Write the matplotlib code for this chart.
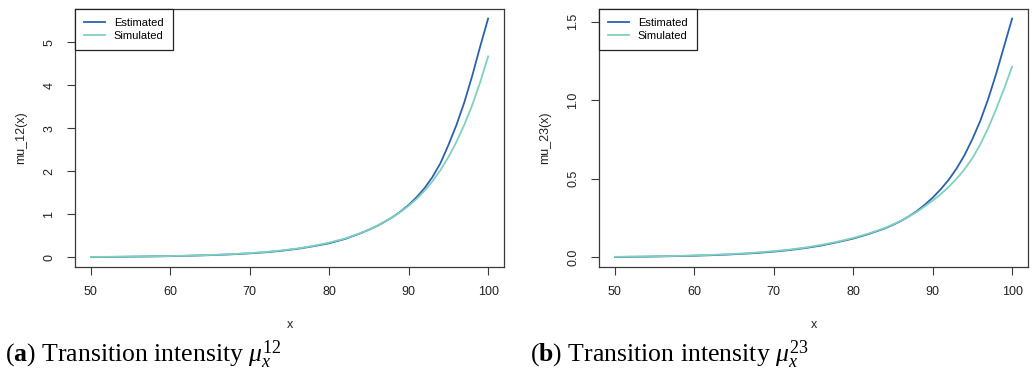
"""Transition intensities: estimated vs simulated (R base-graphics look)."""

import matplotlib
matplotlib.use("Agg")
import matplotlib.pyplot as plt

plt.rcParams['font.family'] = ['Liberation Sans', 'DejaVu Sans']
plt.rcParams['mathtext.fontset'] = 'custom'
plt.rcParams['mathtext.rm'] = 'Liberation Serif'
plt.rcParams['mathtext.it'] = 'Liberation Serif:italic'
plt.rcParams['mathtext.bf'] = 'Liberation Serif:bold'

# ages (read every 2 years up to 84, then yearly)
ages = [50, 52, 54, 56, 58, 60, 62, 64, 66, 68, 70, 72, 74, 76, 78, 80, 82,
        84, 85, 86, 87, 88, 89, 90, 91, 92, 93, 94, 95, 96, 97, 98, 99, 100]

# mu_12(x)
mu12_est = [0.010, 0.012, 0.015, 0.020, 0.025, 0.030, 0.038, 0.048, 0.060,
            0.075, 0.095, 0.120, 0.155, 0.200, 0.260, 0.330, 0.430,
            0.565, 0.645, 0.730, 0.830, 0.940, 1.070, 1.220, 1.400, 1.610,
            1.870, 2.190, 2.610, 3.070, 3.600, 4.220, 4.900, 5.550]
mu12_sim = [0.012, 0.014, 0.018, 0.022, 0.027, 0.033, 0.041, 0.051, 0.064,
            0.080, 0.100, 0.128, 0.163, 0.208, 0.268, 0.345, 0.440,
            0.570, 0.650, 0.735, 0.835, 0.940, 1.060, 1.200, 1.360, 1.550,
            1.770, 2.030, 2.330, 2.680, 3.080, 3.540, 4.070, 4.670]

# mu_23(x)
mu23_est = [0.003, 0.004, 0.005, 0.007, 0.009, 0.011, 0.014, 0.018, 0.023,
            0.029, 0.037, 0.047, 0.060, 0.076, 0.097, 0.120, 0.150,
            0.185, 0.207, 0.232, 0.261, 0.295, 0.335, 0.380, 0.433, 0.493,
            0.565, 0.650, 0.753, 0.870, 1.010, 1.170, 1.345, 1.520]
mu23_sim = [0.004, 0.005, 0.006, 0.008, 0.010, 0.013, 0.016, 0.020, 0.025,
            0.032, 0.040, 0.050, 0.063, 0.080, 0.100, 0.124, 0.153,
            0.188, 0.210, 0.234, 0.260, 0.290, 0.325, 0.362, 0.402, 0.448,
            0.500, 0.560, 0.632, 0.720, 0.825, 0.945, 1.075, 1.214]

EST_COLOR = "#2a62ae"
SIM_COLOR = "#7fd1bf"
FRAME = "#3a3a3a"

panels = [
    ("mu_12(x)", mu12_est, mu12_sim, [0, 1, 2, 3, 4, 5], ["0", "1", "2", "3", "4", "5"],
     r"($\mathbf{a}$) Transition intensity $\mu_x^{12}$"),
    ("mu_23(x)", mu23_est, mu23_sim, [0.0, 0.5, 1.0, 1.5], ["0.0", "0.5", "1.0", "1.5"],
     r"($\mathbf{b}$) Transition intensity $\mu_x^{23}$"),
]

fig = plt.figure(figsize=(10.35, 3.78), dpi=100)
lefts = [75 / 1035, 599 / 1035]
caption_x = [5 / 1035, 530 / 1035]

for (ylab, est, sim, yticks, ytlabels, caption), left, cx in zip(panels, lefts, caption_x):
    ax = fig.add_axes([left, 1 - 267 / 378, 429 / 1035, 258 / 378])
    ax.plot(ages, est, color=EST_COLOR, linewidth=1.3, label="Estimated")
    ax.plot(ages, sim, color=SIM_COLOR, linewidth=1.3, label="Simulated")

    # R-style 4% padding
    lo, hi = 0.0, max(max(est), max(sim))
    pad = 0.04 * (hi - lo)
    ax.set_ylim(lo - pad, hi + pad)
    ax.set_xlim(48, 102)

    ax.set_xticks([50, 60, 70, 80, 90, 100])
    ax.set_yticks(yticks)
    ax.set_yticklabels(ytlabels, rotation=90, va='center')
    ax.tick_params(direction='out', length=6, width=0.8, colors=FRAME,
                   labelsize=9, labelcolor='#222222', pad=8)
    for s in ax.spines.values():
        s.set_color(FRAME)
        s.set_linewidth(0.9)

    ax.set_xlabel("x", fontsize=9, color='#222222', labelpad=15)
    ax.set_ylabel(ylab, fontsize=9, color='#222222', labelpad=12)

    leg = ax.legend(loc='upper left', borderaxespad=0, fancybox=False,
                    edgecolor='#222222', framealpha=1, fontsize=8,
                    handlelength=1.9, handletextpad=0.8, labelspacing=0.25,
                    borderpad=0.8)
    leg.get_frame().set_linewidth(0.9)

    fig.text(cx, 1 - 355 / 378, caption, fontsize=18.5,
             family='Liberation Serif', va='center', ha='left')

fig.savefig("out.png", dpi=100)
